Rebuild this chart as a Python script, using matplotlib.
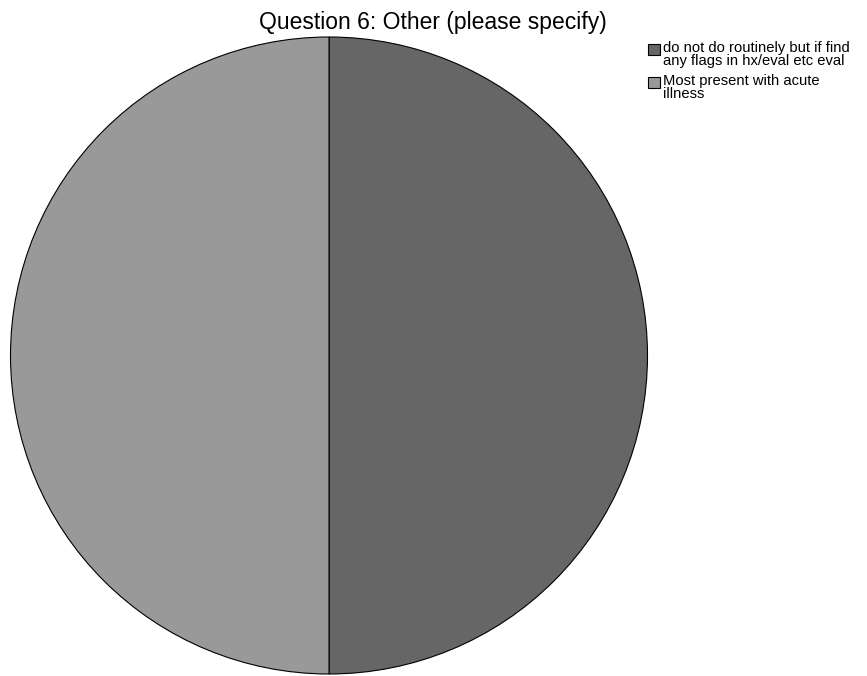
import matplotlib.pyplot as plt
from matplotlib.patches import Rectangle

plt.rcParams['font.family'] = ['Liberation Sans', 'DejaVu Sans']

# Daten
labels = ["do not do routinely but if find\nany flags in hx/eval etc eval",
          "Most present with acute\nillness"]
values = [1, 1]
colors = ["#666666", "#999999"]

W, H = 867, 676
fig = plt.figure(figsize=(W / 100, H / 100), dpi=100)

# pie axes placed to match the reference circle
ax = fig.add_axes([10 / W, 2 / H, 638 / W, 637 / H])
ax.pie(values, colors=colors, startangle=90, counterclock=False,
       wedgeprops=dict(edgecolor="black", linewidth=0.8))
ax.set_aspect("equal")
ax.set_xlim(-1, 1)
ax.set_ylim(-1, 1)

fig.text(433 / W, 1 - 22 / H, "Question 6: Other (please specify)",
         ha="center", va="center", fontsize=16.5)

# legend drawn by hand (box at top of each entry, like the original)
for i, (lab, c) in enumerate(zip(labels, colors)):
    y0 = 44 + i * 33
    fig.patches.append(Rectangle((648 / W, 1 - (y0 + 11) / H), 12 / W, 11 / H,
                                 facecolor=c, edgecolor="black", linewidth=0.8,
                                 transform=fig.transFigure, figure=fig))
    fig.text(663 / W, 1 - (y0 - 3) / H, lab, ha="left", va="top",
             fontsize=10.6, linespacing=0.92)

fig.savefig("out.png", dpi=100)
